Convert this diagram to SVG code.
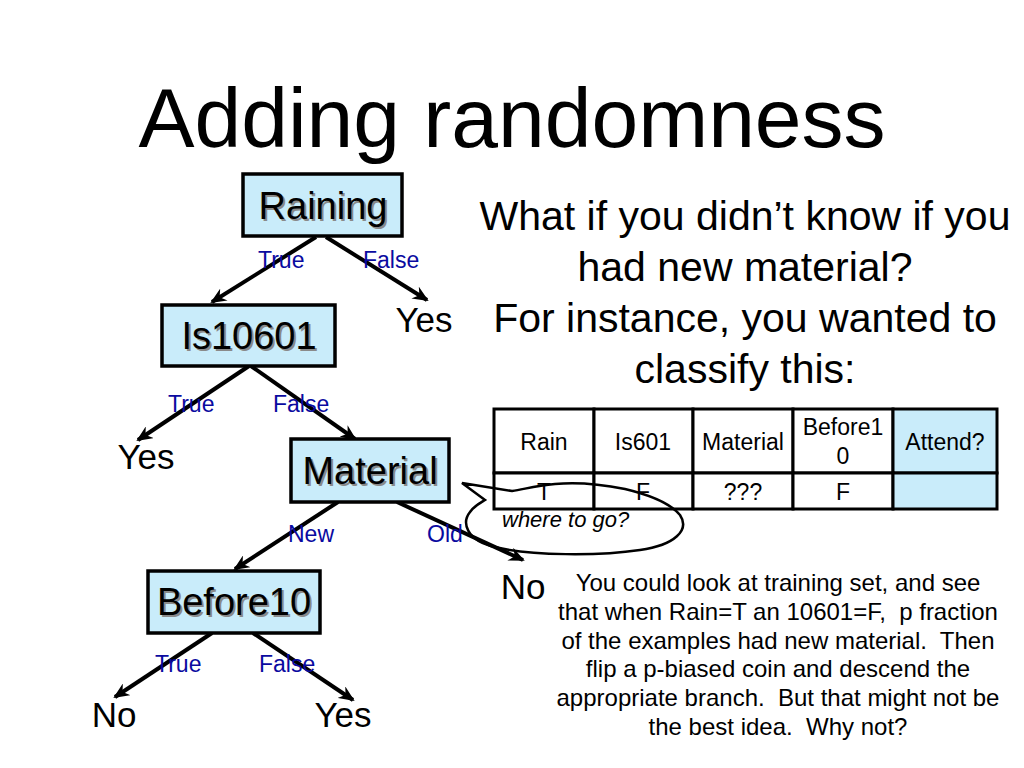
<svg xmlns="http://www.w3.org/2000/svg" width="1024" height="768" viewBox="0 0 1024 768">
<defs>
<marker id="arr" markerUnits="userSpaceOnUse" markerWidth="18" markerHeight="14" refX="14" refY="7" orient="auto">
<path d="M0,0 L16,7 L0,14 L5,7 Z" fill="#000"/>
</marker>
</defs>
<style>
text{font-family:"Liberation Sans",Arial,sans-serif;fill:#000}
.title{font-size:84px;text-anchor:middle}
.node rect{fill:#C9ECFA;stroke:#000;stroke-width:3.5}
.nl{font-size:38px;text-anchor:middle}
.sh{fill:#8a8a8a}
.leaf{font-size:35px;text-anchor:middle}
.lbl{font-size:23px;fill:#0A0AA0}
.edge{stroke:#000;stroke-width:4;fill:none;marker-end:url(#arr)}
.big{font-size:41px;text-anchor:middle}
.para{font-size:24px;text-anchor:middle}
.tb{font-size:23px;text-anchor:middle}
.cell{fill:#fff;stroke:#000;stroke-width:3}
.cellb{fill:#C9ECFA;stroke:#000;stroke-width:3}
</style>
<rect width="1024" height="768" fill="#fff"/>
<text class="title" x="512" y="147">Adding randomness</text>

<g id="connectors">
<line class="edge" x1="316" y1="237" x2="212" y2="302"/>
<line class="edge" x1="326" y1="237" x2="427" y2="300"/>
<line class="edge" x1="249" y1="366" x2="138" y2="440"/>
<line class="edge" x1="251" y1="366" x2="355" y2="439"/>
<line class="edge" x1="338" y1="502" x2="235" y2="569"/>
<line class="edge" x1="397" y1="502" x2="523" y2="560"/>
<line class="edge" x1="212" y1="633" x2="115" y2="697"/>
<line class="edge" x1="253" y1="633" x2="353" y2="700"/>
<text class="lbl" x="258" y="268">True</text>
<text class="lbl" x="363" y="268">False</text>
<text class="lbl" x="168" y="412">True</text>
<text class="lbl" x="273" y="412">False</text>
<text class="lbl" x="288" y="542">New</text>
<text class="lbl" x="427" y="542">Old</text>
<text class="lbl" x="155" y="672">True</text>
<text class="lbl" x="259" y="672">False</text>
</g>

<g id="raining" class="node">
<rect x="243" y="174" width="159" height="62"/>
<text class="nl sh" x="325" y="221">Raining</text>
<text class="nl" x="323" y="219">Raining</text>
</g>
<g id="is10601" class="node">
<rect x="162" y="305" width="173" height="61"/>
<text class="nl sh" x="251" y="351">Is10601</text>
<text class="nl" x="249" y="349">Is10601</text>
</g>
<g id="material" class="node">
<rect x="291" y="439" width="158" height="63"/>
<text class="nl sh" x="372" y="486">Material</text>
<text class="nl" x="370" y="484">Material</text>
</g>
<g id="before10" class="node">
<rect x="148" y="571" width="172" height="62"/>
<text class="nl sh" x="236" y="617">Before10</text>
<text class="nl" x="234" y="615">Before10</text>
</g>

<g id="leaf-yes1"><text class="leaf" x="424" y="332">Yes</text></g>
<g id="leaf-yes2"><text class="leaf" x="146" y="469">Yes</text></g>
<g id="leaf-no1"><text class="leaf" x="523" y="599">No</text></g>
<g id="leaf-no2"><text class="leaf" x="114" y="727">No</text></g>
<g id="leaf-yes3"><text class="leaf" x="343" y="727">Yes</text></g>

<g id="question">
<text class="big" x="745" y="230">What if you didn’t know if you</text>
<text class="big" x="745" y="281">had new material?</text>
<text class="big" x="745" y="332">For instance, you wanted to</text>
<text class="big" x="745" y="383">classify this:</text>
</g>

<g id="table">
<rect class="cell" x="494" y="409" width="100" height="64"/>
<rect class="cell" x="594" y="409" width="99" height="64"/>
<rect class="cell" x="693" y="409" width="100" height="64"/>
<rect class="cell" x="793" y="409" width="100" height="64"/>
<rect class="cellb" x="893" y="409" width="104" height="64"/>
<rect class="cell" x="494" y="473" width="100" height="36"/>
<rect class="cell" x="594" y="473" width="99" height="36"/>
<rect class="cell" x="693" y="473" width="100" height="36"/>
<rect class="cell" x="793" y="473" width="100" height="36"/>
<rect class="cellb" x="893" y="473" width="104" height="36"/>
<text class="tb" x="544" y="450">Rain</text>
<text class="tb" x="643" y="450">Is601</text>
<text class="tb" x="743" y="450">Material</text>
<text class="tb" x="843" y="435">Before1</text>
<text class="tb" x="843" y="464">0</text>
<text class="tb" x="945" y="450">Attend?</text>
<text class="tb" x="544" y="500">T</text>
<text class="tb" x="643" y="500">F</text>
<text class="tb" x="743" y="500">???</text>
<text class="tb" x="843" y="500">F</text>
</g>

<g id="callout">
<path d="M485,500 L462,483 L512,491 C525,489 535,486 555,484 C575,482 600,484 625,489 C650,495 670,503 680,515 C690,530 675,545 640,550 C600,556 530,556 495,547 C465,540 462,522 470,512 C474,506 480,503 485,500 Z" fill="none" stroke="#000" stroke-width="2.5"/>
<text x="502" y="527" style="font-size:22px;font-style:italic">where to go?</text>
</g>

<g id="explanation">
<text class="para" x="778" y="591">You could look at training set, and see</text>
<text class="para" x="778" y="620" xml:space="preserve">that when Rain=T an 10601=F,  p fraction</text>
<text class="para" x="778" y="649" xml:space="preserve">of the examples had new material.  Then</text>
<text class="para" x="778" y="677">flip a p-biased coin and descend the</text>
<text class="para" x="778" y="706" xml:space="preserve">appropriate branch.  But that might not be</text>
<text class="para" x="778" y="735" xml:space="preserve">the best idea.  Why not?</text>
</g>
</svg>
